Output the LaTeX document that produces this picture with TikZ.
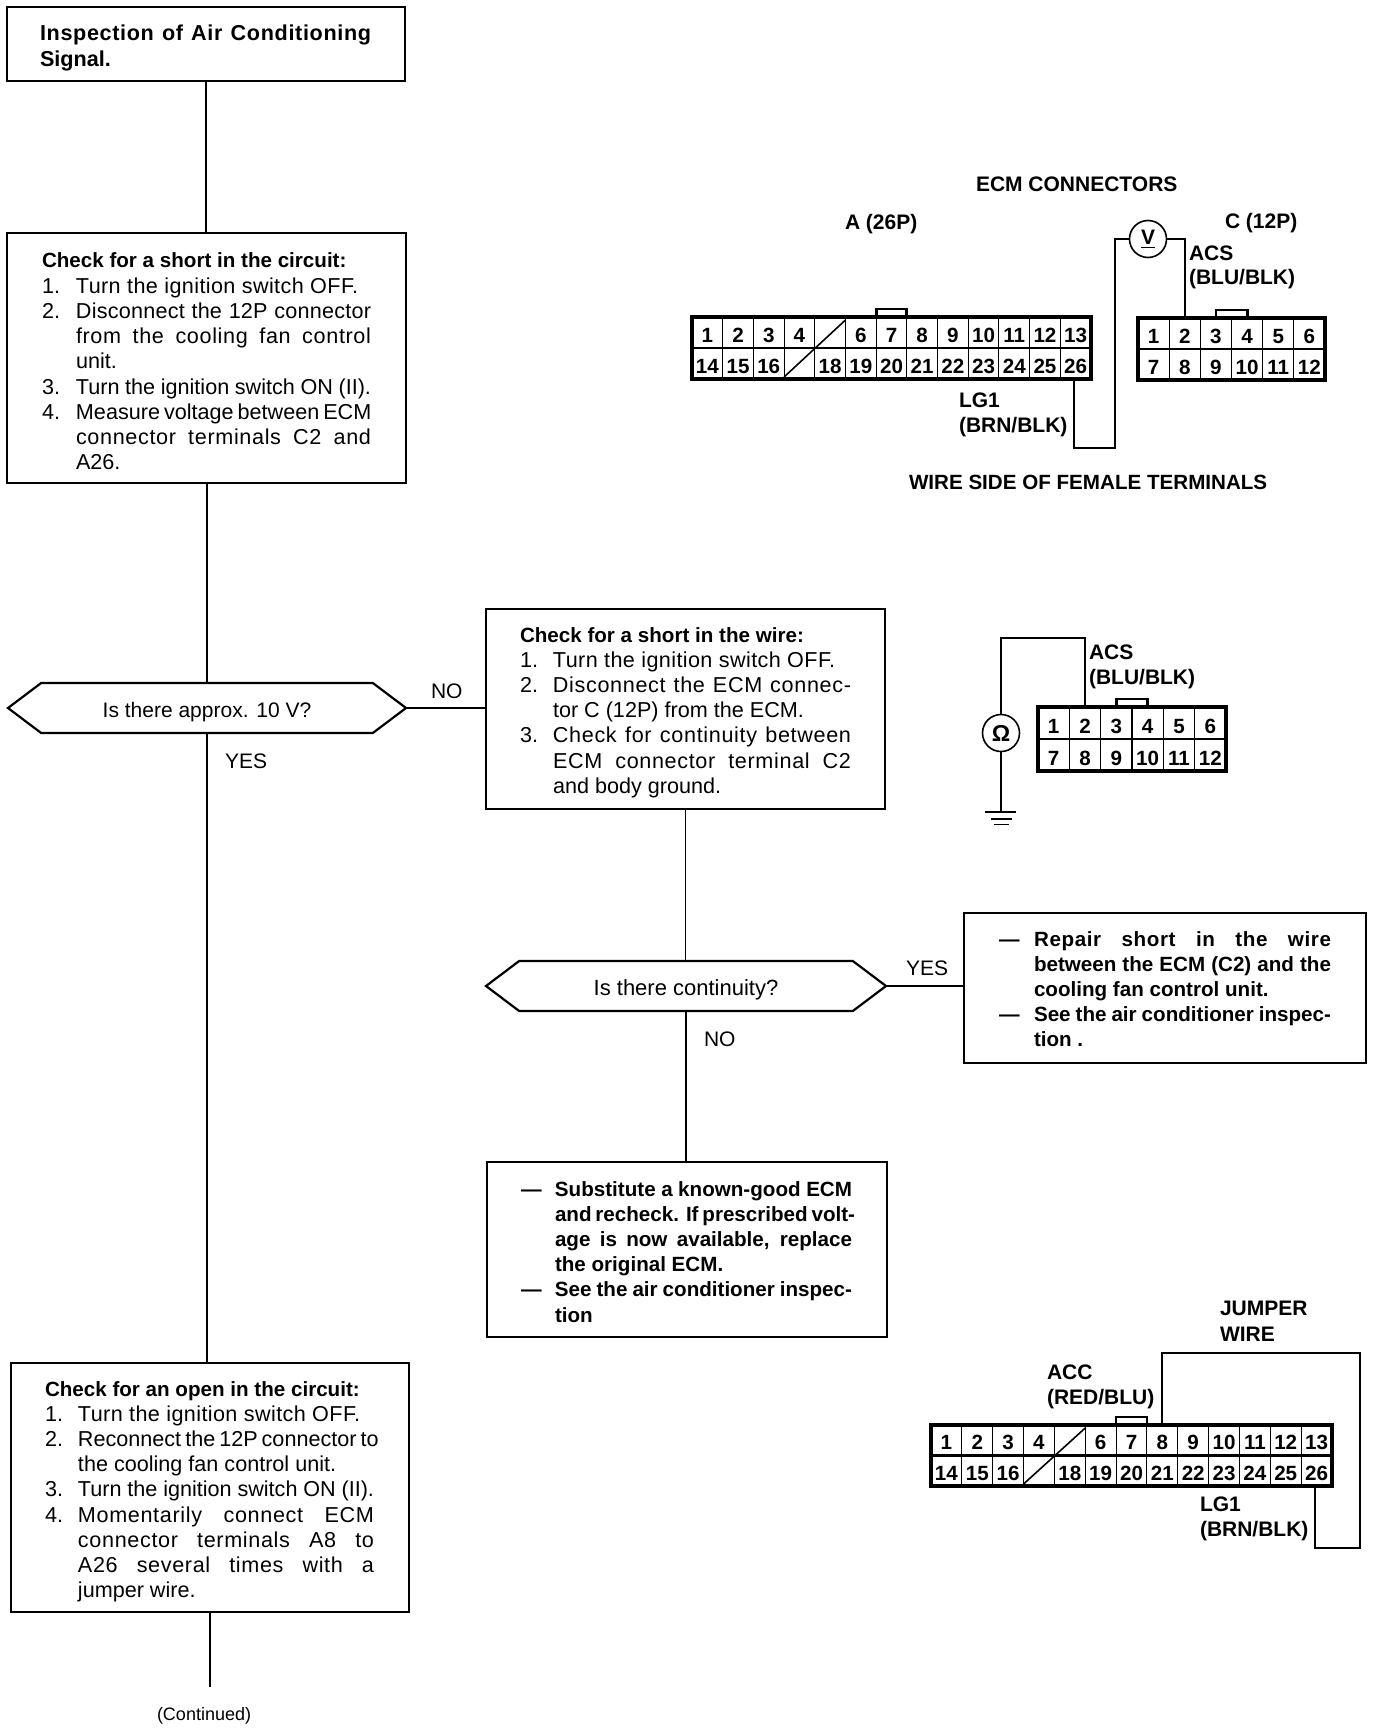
\documentclass[tikz,border=0pt]{standalone}
\usepackage{fontspec}
\setmainfont{Liberation Sans}
\usetikzlibrary{shapes.symbols}
\hbadness=10000 \hfuzz=50pt
\newlength\rowind \newlength\rowwid
\newcommand\LN[2]{\hbox{\hbox to\rowind{#1\hss}#2}}
\newcommand\TN[1]{\hbox{\fontsize{10.3}{12.6}\selectfont\bfseries #1}}
\newcommand\AN[2]{\hbox{\hbox to\rowind{#1\hss}{\addfontfeature{LetterSpace=1.8}#2}}}
\newcommand\JN[2]{\hbox{\hbox to\rowind{#1\hss}\hbox to\rowwid{#2}}}
\newcommand\QN[2]{\hbox{\hbox to\rowind{#1\hss}\hbox to\rowwid{\addfontfeature{LetterSpace=1}#2}}}
\newcommand\SN[2]{\hbox{\hbox to\rowind{#1\hss}\hbox to\rowwid{\addfontfeature{LetterSpace=3}#2}}}
\newcommand\BLK[3]{\vtop{\rowind=#1pt\rowwid=#2pt\baselineskip=12.6pt\lineskiplimit=-\maxdimen #3}}
\tikzset{
  x=0.5pt,y=-0.5pt,
  box/.style={draw=black,line width=1.1pt,rectangle,inner sep=0pt,outer sep=0pt,fill=white},
  hexa/.style={draw=black,line width=1.1pt,signal,signal to=west and east,signal pointer angle=74,inner sep=0pt,outer sep=0pt,minimum height=25pt,font=\fontsize{10.5}{12}\selectfont},
  body/.style={anchor=base west,inner sep=0pt,outer sep=0pt,font=\fontsize{10.8}{12.6}\selectfont},
  bodyb/.style={body,font=\fontsize{10.3}{12.6}\selectfont\bfseries},
  lab/.style={anchor=base west,inner sep=0pt,outer sep=0pt,font=\fontsize{10.5}{12}\selectfont\bfseries},
  res/.style={anchor=base west,inner sep=0pt,outer sep=0pt,font=\fontsize{10.5}{12}\selectfont},
  wire/.style={draw=black,line width=0.8pt},
  meter/.style={draw=black,circle,line width=0.8pt,inner sep=0pt,outer sep=0pt,fill=white,font=\fontsize{10.5}{12}\selectfont\bfseries},
  frame/.style={draw=black,line width=1.9pt,rectangle,inner sep=0pt,outer sep=0pt},
  pin/.style={anchor=base,inner sep=0pt,outer sep=0pt,font=\fontsize{10.3}{12}\selectfont\bfseries},
}
% box from corners: name, x0, y0, x1, y1
\newcommand\bx[5]{%
  \pgfmathsetmacro\bw{(#4-#2)*0.5}\pgfmathsetmacro\bh{(#5-#3)*0.5}%
  \node[box,minimum width=\bw pt,minimum height=\bh pt] (#1) at ({(#2+#4)/2},{(#3+#5)/2}) {};}
% connector: name, x0, ytop, width, height, cols, tab start col
\newcommand\conn[7]{%
  \pgfmathsetmacro\cw{#4/#6}\pgfmathsetmacro\ym{#3+#5/2}\pgfmathsetmacro\yb{#3+#5}%
  \pgfmathsetmacro\tl{#2+#7*\cw}\pgfmathsetmacro\tr{#2+(#7+1)*\cw}%
  \pgfmathsetmacro\fw{#4*0.5}\pgfmathsetmacro\fh{#5*0.5}%
  \draw[line width=1.4pt] (\tl,#3) -- (\tl,#3-8) -- (\tr,#3-8) -- (\tr,#3);
  \node[frame,minimum width=\fw pt,minimum height=\fh pt] (#1) at ({#2+#4/2},\ym) {};
  \draw[line width=1.1pt] (#2,\ym) -- (#2+#4,\ym);
  \foreach \i in {1,...,#6}{
    \pgfmathtruncatemacro\kb{\i-1}
    \ifnum\i>1
      \draw[line width=0.55pt] (#2+\kb*\cw,#3) -- (#2+\kb*\cw,\yb);
    \fi
    \pgfmathsetmacro\cx{#2+(\i-0.5)*\cw}
    \pgfmathtruncatemacro\lo{\i+#6}
    \ifnum#6=13 \ifnum\i=5 \else \node[pin] (#1-\i) at (\cx,\ym-6) {\i}; \fi
    \else \node[pin] (#1-\i) at (\cx,\ym-6) {\i}; \fi
    \ifnum#6=13 \ifnum\lo=17 \else \node[pin] (#1-\lo) at (\cx,\yb-6) {\lo}; \fi
    \else \node[pin] (#1-\lo) at (\cx,\yb-6) {\lo}; \fi
  }
  \ifnum#6=13
    \draw[line width=0.8pt] (#2+3*\cw,\yb-2) -- (#2+5*\cw,#3+3);
  \fi
}
\begin{document}
\begin{tikzpicture}
\useasboundingbox[fill=white] (0,0) rectangle (1376,1728);
% flow boxes
\bx{b1}{7}{7}{405}{81}
\bx{b2}{7}{233}{406}{483}
\bx{b3}{486}{609}{885}{809}
\bx{b4}{11}{1363}{409}{1612}
\bx{b5}{964}{913}{1366}{1063}
\bx{b6}{487}{1162}{887}{1337}
\node[hexa,minimum width=199pt] (h1) at (207,708) {\raisebox{-4.5pt}[0pt][0pt]{Is there approx. 10 V?}};
\node[hexa,minimum width=200pt,font=\fontsize{11}{12}\selectfont] (h2) at (686,986) {\raisebox{-4.5pt}[0pt][0pt]{Is there continuity?}};
\coordinate (cont) at (210,1687);
% flow connectors
\draw[wire,line width=1pt] (b1.south) -- (b1.south |- b2.north);
\draw[wire,line width=1pt] (b2.south) -- (b2.south |- h1.north);
\draw[wire,line width=1pt] (h1.south) -- (h1.south |- b4.north);
\draw[wire,line width=1pt] (h1.east) -- (h1.east -| b3.west);
\draw[wire] (b3.south) -- (b3.south |- h2.north);
\draw[wire] (h2.south) -- (h2.south |- b6.north);
\draw[wire] (h2.east) -- (h2.east -| b5.west);
\draw[wire] (b4.south) -- (cont);
% flow labels
\node[res] (no1) at (431,698) {NO};
\node[res] (yes1) at (225,768) {YES};
\node[res] (yes2) at (906,975) {YES};
\node[res] (no2) at (704,1046) {NO};
\node[res,font=\fontsize{9}{11}\selectfont] (contd) at (157,1720) {(Continued)};
% box texts
\node[body,font=\fontsize{10.8}{12.6}\selectfont\bfseries] (t1) at (40,41) {\BLK{0}{165.5}{
  \SN{}{Inspection of Air Conditioning}
  \LN{}{Signal.}}};
\node[body] (t2) at (42,268) {\BLK{17}{147.5}{
  \TN{Check for a short in the circuit:}
  \AN{1.}{Turn the ignition switch OFF.}
  \QN{2.}{Disconnect the 12P connector}
  \SN{}{from the cooling fan control}
  \LN{}{unit.}
  \JN{3.}{Turn the ignition switch ON (II).}
  \JN{4.}{Measure voltage between ECM}
  \SN{}{connector terminals C2 and}
  \LN{}{A26.}}};
\node[body] (t3) at (520,642) {\BLK{16.5}{149}{
  \TN{Check for a short in the wire:}
  \AN{1.}{Turn the ignition switch OFF.}
  \SN{2.}{Disconnect the ECM connec-}
  \LN{}{tor C (12P) from the ECM.}
  \SN{3.}{Check for continuity between}
  \SN{}{ECM connector terminal C2}
  \LN{}{and body ground.}}};
\node[body] (t4) at (45,1396) {\BLK{16.5}{148}{
  \TN{Check for an open in the circuit:}
  \AN{1.}{Turn the ignition switch OFF.}
  \JN{2.}{Reconnect the 12P connector to}
  \LN{}{the cooling fan control unit.}
  \JN{3.}{Turn the ignition switch ON (II).}
  \SN{4.}{Momentarily connect ECM}
  \SN{}{connector terminals A8 to}
  \SN{}{A26 several times with a}
  \LN{}{jumper wire.}}};
\node[bodyb] (t5) at (999,946) {\BLK{17.5}{148.5}{
  \SN{—}{Repair short in the wire}
  \JN{}{between the ECM (C2) and the}
  \LN{}{cooling fan control unit.}
  \JN{—}{See the air conditioner inspec-}
  \LN{}{tion .}}};
\node[bodyb] (t6) at (521,1196) {\BLK{17}{148.5}{
  \JN{—}{Substitute a known-good ECM}
  \JN{}{and recheck. If prescribed volt-}
  \JN{}{age is now available, replace}
  \LN{}{the original ECM.}
  \JN{—}{See the air conditioner inspec-}
  \LN{}{tion}}};
% ECM connectors, top
\conn{A}{692}{317}{399}{62}{13}{6}
\conn{C}{1138}{318}{187}{62}{6}{2.5}
\node[lab] (ecm) at (976,192) {ECM CONNECTORS};
\node[lab] (la) at (845,230) {A (26P)};
\node[lab] (lc) at (1225,228) {C (12P)};
\node[lab] (acs1) at (1189,261) {ACS};
\node[lab] (blu1) at (1189,285) {(BLU/BLK)};
\node[lab] (lg1) at (959,407) {LG1};
\node[lab] (brn1) at (959,432) {(BRN/BLK)};
\node[lab,font=\fontsize{10.3}{12}\selectfont\bfseries] (wside) at (909,489) {WIRE SIDE OF FEMALE TERMINALS};
\node[meter,minimum size=18.5pt] (vm) at (1148,239) {\underline{V}};
\coordinate (a26) at (1074,379);
\coordinate (c2) at (1185,318);
\coordinate (vb) at (1115,448);
\draw[wire] (vm.west) -| (vb) -| (a26);
\draw[wire] (vm.east) -| (c2);
% ohm check
\conn{O}{1038}{707}{188}{64}{6}{2.5}
\node[lab] (acs2) at (1089,659) {ACS};
\node[lab] (blu2) at (1089,684) {(BLU/BLK)};
\node[meter,minimum size=18.5pt,font=\fontsize{11.5}{12}\selectfont\bfseries] (om) at (1001,733) {Ω};
\coordinate (o2) at (1085,707);
\coordinate (ot) at (1001,638);
\coordinate (gnd) at (1001,812);
\draw[wire] (o2) |- (ot) -- (om.north);
\draw[wire] (om.south) -- (gnd);
\draw[wire] (985,812) -- (1016,812);
\draw[wire] (991,819) -- (1012,819);
\draw[wire] (994,824.5) -- (1009,824.5);
% jumper
\conn{J}{931}{1425}{401}{61}{13}{6}
\node[lab] (jmp) at (1220,1315) {JUMPER};
\node[lab] (wir) at (1220,1341) {WIRE};
\node[lab] (acc) at (1047,1379) {ACC};
\node[lab] (red) at (1047,1404) {(RED/BLU)};
\node[lab] (lg2) at (1200,1511) {LG1};
\node[lab] (brn2) at (1200,1536) {(BRN/BLK)};
\coordinate (j8) at (1162,1425);
\coordinate (j26) at (1315,1486);
\coordinate (jt) at (1360,1353);
\coordinate (jb) at (1360,1548);
\draw[wire] (j8) |- (jt) -- (jb) -| (j26);
\end{tikzpicture}
\end{document}
